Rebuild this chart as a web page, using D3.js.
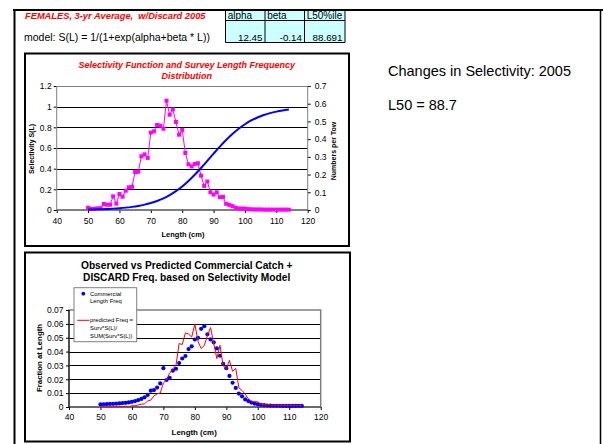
<!DOCTYPE html>
<html>
<head>
<meta charset="utf-8">
<script src="https://cdn.jsdelivr.net/npm/d3@7"></script>
<style>
  html, body { margin: 0; padding: 0; background: #fff; }
  svg { display: block; font-family: "Liberation Sans", Arial, Helvetica, sans-serif; }
</style>
</head>
<body>
<svg id="chart" width="603" height="444"></svg>
<script>
// ---- Data -------------------------------------------------------------
// Length classes (cm) for survey and commercial frequencies
const lengths = [50,51,52,53,54,55,56,57,58,59,60,61,62,63,64,65,66,67,68,69,
  70,71,72,73,74,75,76,77,78,79,80,81,82,83,84,85,86,87,88,89,
  90,91,92,93,94,95,96,97,98,99,100,101,102,103,104,105,106,107,108,109,
  110,111,112,113,114];

// Survey numbers per tow by length (right axis, top panel)
const surveyPerTow = [0.013,0.006,0.007,0.009,0.010,0.034,0.030,0.030,0.077,0.036,
  0.090,0.075,0.109,0.128,0.131,0.214,0.216,0.303,0.314,0.294,
  0.437,0.444,0.480,0.476,0.459,0.617,0.538,0.568,0.497,0.425,
  0.452,0.322,0.258,0.246,0.260,0.264,0.194,0.136,0.161,0.100,
  0.087,0.100,0.072,0.074,0.035,0.029,0.022,0.013,0.009,0.008,
  0.008,0.005,0.004,0.003,0.003,0.003,0.002,0.002,0.002,0.002,
  0.002,0.002,0.002,0.002,0.002];

// Fitted selectivity S(L) (left axis, top panel)
const selLengths = [50,52,54,56,58,60,62,64,66,68,70,72,74,76,78,80,82,84,86,88,
  90,92,94,96,98,100,102,104,106,108,110,112,114];
const selectivity = [0.0044,0.0058,0.0076,0.0101,0.0133,0.0175,0.0230,0.0303,0.0397,0.0519,
  0.0676,0.0876,0.1127,0.1441,0.1823,0.2279,0.2810,0.3410,0.4066,0.4757,
  0.5456,0.6139,0.6781,0.7360,0.7868,0.8301,0.8662,0.8955,0.9190,0.9376,
  0.9522,0.9634,0.9721];

// Observed commercial + discard length frequency (bottom panel, dots)
const commercialFreq = [0.0019,0.0020,0.0021,0.0022,0.0023,0.0024,0.0026,0.0028,0.0030,0.0033,
  0.0037,0.0043,0.0050,0.0058,0.0070,0.0087,0.0118,0.0122,0.0140,0.0170,
  0.0280,0.0195,0.0210,0.0262,0.0276,0.0317,0.0350,0.0368,0.0418,0.0438,
  0.0487,0.0499,0.0564,0.0583,0.0525,0.0488,0.0467,0.0423,0.0370,0.0312,
  0.0280,0.0224,0.0175,0.0138,0.0097,0.0077,0.0055,0.0043,0.0032,0.0025,
  0.0020,0.0016,0.0013,0.0011,0.0010,0.0009,0.0009,0.0009,0.0008,0.0008,
  0.0008,0.0008,0.0008,0.0008,0.0008];

// Predicted frequency = Surv*S(L)/SUM(Surv*S(L)) (bottom panel, line)
const predictedFreq = [0.0000,0.0000,0.0000,0.0000,0.0000,0.0002,0.0002,0.0002,0.0006,0.0003,
  0.0009,0.0009,0.0015,0.0020,0.0023,0.0043,0.0050,0.0080,0.0095,0.0101,
  0.0172,0.0199,0.0244,0.0276,0.0301,0.0458,0.0451,0.0535,0.0527,0.0505,
  0.0599,0.0474,0.0422,0.0444,0.0516,0.0573,0.0459,0.0349,0.0445,0.0297,
  0.0276,0.0337,0.0257,0.0278,0.0138,0.0119,0.0094,0.0058,0.0041,0.0038,
  0.0038,0.0020,0.0016,0.0015,0.0014,0.0013,0.0012,0.0012,0.0011,0.0011,
  0.0011,0.0010,0.0010,0.0010,0.0010];

// Model parameter table
const paramNames = ["alpha", "beta", "L50%ile"];
const paramValues = ["12.45", "-0.14", "88.691"];

// Axis ticks
const lengthTicks = [40,50,60,70,80,90,100,110,120];
const selTicks = [0,0.2,0.4,0.6,0.8,1,1.2];
const towTicks = [0,0.1,0.2,0.3,0.4,0.5,0.6,0.7];
const fracTicks = [0,0.01,0.02,0.03,0.04,0.05,0.06,0.07];

// ---- Drawing ----------------------------------------------------------
const svg = d3.select("#chart");
const fmt = d3.format("~g");

// Sheet outline
svg.append("line").attr("x1", 13).attr("x2", 603).attr("y1", 10).attr("y2", 10)
  .attr("stroke", "#000").attr("stroke-width", 2);
svg.append("line").attr("x1", 14.5).attr("x2", 14.5).attr("y1", 9).attr("y2", 444)
  .attr("stroke", "#000").attr("stroke-width", 2);
svg.append("line").attr("x1", 600.5).attr("x2", 600.5).attr("y1", 9).attr("y2", 444)
  .attr("stroke", "#000").attr("stroke-width", 1.5);

// Heading and model text
svg.append("text").attr("x", 25).attr("y", 19.3)
  .attr("font-size", 9.3).attr("font-weight", "bold").attr("font-style", "italic")
  .attr("fill", "#ff0000").attr("xml:space", "preserve")
  .text("FEMALES, 3-yr Average,  w/Discard 2005");
svg.append("text").attr("x", 24).attr("y", 40.7)
  .attr("font-size", 10.5).attr("fill", "#000")
  .text("model: S(L) = 1/(1+exp(alpha+beta * L))");

// Parameter table
const colX = [225.5, 265, 304.5, 345];
const rowY = [11, 20.5, 42.5];
const tbl = svg.append("g");
tbl.append("rect").attr("x", colX[0]).attr("y", rowY[0])
  .attr("width", colX[3] - colX[0]).attr("height", rowY[2] - rowY[0]).attr("fill", "#ccffff");
colX.forEach(x => tbl.append("line").attr("x1", x).attr("x2", x).attr("y1", rowY[0] - 1).attr("y2", rowY[2])
  .attr("stroke", "#000").attr("stroke-width", 1));
[rowY[1], rowY[2]].forEach(y => tbl.append("line").attr("x1", colX[0]).attr("x2", colX[3]).attr("y1", y).attr("y2", y)
  .attr("stroke", "#000").attr("stroke-width", 1));
paramNames.forEach((n, i) => tbl.append("text").attr("x", colX[i] + 2.2).attr("y", 18.6)
  .attr("font-size", 10).attr("fill", "#000").text(n));
paramValues.forEach((v, i) => tbl.append("text").attr("x", colX[i + 1] - 2.5).attr("y", 40.7)
  .attr("text-anchor", "end").attr("font-size", 9.8).attr("fill", "#000").text(v));

// Right-hand notes
svg.append("text").attr("x", 388).attr("y", 76).attr("font-size", 14.5).attr("fill", "#000")
  .text("Changes in Selectivity: 2005");
svg.append("text").attr("x", 388).attr("y", 110).attr("font-size", 14.5).attr("fill", "#000")
  .text("L50 = 88.7");

function styleAxis(g, fontSize) {
  g.selectAll(".domain").remove();
  g.selectAll(".tick line").attr("stroke", "#000").attr("stroke-width", 1);
  g.selectAll(".tick text").attr("font-size", fontSize).attr("fill", "#000")
    .attr("font-family", '"Liberation Sans", Arial, sans-serif');
}

// ================= Top panel: selectivity + survey ======================
const selPanel = svg.append("g");
selPanel.append("rect").attr("x", 25).attr("y", 53.5).attr("width", 324).attr("height", 192.5)
  .attr("fill", "#fff").attr("stroke", "#000").attr("stroke-width", 2);

const xT = d3.scaleLinear().domain([40, 120]).range([56.7, 307.7]);
const yL = d3.scaleLinear().domain([0, 1.2]).range([210, 86]);
const yR = d3.scaleLinear().domain([0, 0.7]).range([210, 86]);

// gridlines
selPanel.append("g").selectAll("line").data(selTicks.filter(d => d > 0)).join("line")
  .attr("x1", xT(40)).attr("x2", xT(120))
  .attr("y1", d => Math.round(yL(d)) + 0.5).attr("y2", d => Math.round(yL(d)) + 0.5)
  .attr("stroke", d => d === 1.2 ? "#808080" : "#000").attr("stroke-width", 1);

// axes
selPanel.append("g").attr("transform", `translate(${xT(40)},0)`)
  .call(d3.axisLeft(yL).tickValues(selTicks).tickFormat(fmt).tickSize(3).tickSizeOuter(0).tickPadding(2))
  .call(g => styleAxis(g, 8.5));
selPanel.append("g").attr("transform", `translate(${xT(120)},0)`)
  .call(d3.axisRight(yR).tickValues(towTicks).tickFormat(fmt).tickSize(3).tickSizeOuter(0).tickPadding(4))
  .call(g => styleAxis(g, 8.5));
selPanel.append("g").attr("transform", `translate(0,${yL(0)})`)
  .call(d3.axisBottom(xT).tickValues(lengthTicks).tickFormat(fmt).tickSize(3).tickSizeOuter(0).tickPadding(5))
  .call(g => styleAxis(g, 8.5));
selPanel.append("line").attr("x1", xT(40)).attr("x2", xT(40)).attr("y1", yL(1.2)).attr("y2", yL(0))
  .attr("stroke", "#808080");
selPanel.append("line").attr("x1", xT(120)).attr("x2", xT(120)).attr("y1", yL(1.2)).attr("y2", yL(0))
  .attr("stroke", "#808080");
selPanel.append("line").attr("x1", xT(40)).attr("x2", xT(120)).attr("y1", yL(0)).attr("y2", yL(0))
  .attr("stroke", "#555").attr("stroke-width", 1.5);

// survey series (magenta, squares)
const surveyPts = lengths.map((L, i) => [L, surveyPerTow[i]]);
selPanel.append("path").datum(surveyPts)
  .attr("fill", "none").attr("stroke", "#ff00ff").attr("stroke-width", 1)
  .attr("d", d3.line().x(d => xT(d[0])).y(d => yR(d[1])));
selPanel.append("g").selectAll("rect").data(surveyPts).join("rect")
  .attr("x", d => xT(d[0]) - 2).attr("y", d => yR(d[1]) - 2)
  .attr("width", 4).attr("height", 4).attr("fill", "#ff00ff");

// selectivity curve (blue)
const selPts = selLengths.map((L, i) => [L, selectivity[i]]);
selPanel.append("path").datum(selPts)
  .attr("fill", "none").attr("stroke", "#0000ff").attr("stroke-width", 2)
  .attr("d", d3.line().curve(d3.curveMonotoneX).x(d => xT(d[0])).y(d => yL(d[1])));

// titles
selPanel.append("text").attr("x", 186.7).attr("y", 68.3).attr("text-anchor", "middle")
  .attr("font-size", 9).attr("font-weight", "bold").attr("font-style", "italic").attr("fill", "#ff0000")
  .text("Selectivity Function and Survey Length Frequency");
selPanel.append("text").attr("x", 186.7).attr("y", 79).attr("text-anchor", "middle")
  .attr("font-size", 9).attr("font-weight", "bold").attr("font-style", "italic").attr("fill", "#ff0000")
  .text("Distribution");
selPanel.append("text").attr("x", 183).attr("y", 236.5).attr("text-anchor", "middle")
  .attr("font-size", 7.5).attr("font-weight", "bold").text("Length (cm)");
selPanel.append("text").attr("transform", "translate(34,149) rotate(-90)").attr("text-anchor", "middle")
  .attr("font-size", 7).attr("font-weight", "bold").text("Selectivity S(L)");
selPanel.append("text").attr("transform", "translate(335.5,151) rotate(-90)").attr("text-anchor", "middle")
  .attr("font-size", 7).attr("font-weight", "bold").text("Numbers per Tow");

// ================= Bottom panel: observed vs predicted ==================
const fitPanel = svg.append("g");
fitPanel.append("rect").attr("x", 25).attr("y", 252.5).attr("width", 325).attr("height", 189)
  .attr("fill", "#fff").attr("stroke", "#000").attr("stroke-width", 2);

const xB = d3.scaleLinear().domain([40, 120]).range([69, 320.7]);
const yB = d3.scaleLinear().domain([0, 0.07]).range([407, 310]);

fitPanel.append("g").selectAll("line").data(fracTicks.filter(d => d > 0 && d < 0.07)).join("line")
  .attr("x1", xB(40)).attr("x2", xB(120))
  .attr("y1", d => Math.round(yB(d)) + 0.5).attr("y2", d => Math.round(yB(d)) + 0.5)
  .attr("stroke", "#000").attr("stroke-width", 1);
fitPanel.append("rect").attr("x", xB(40)).attr("y", yB(0.07)).attr("width", xB(120) - xB(40))
  .attr("height", yB(0) - yB(0.07)).attr("fill", "none").attr("stroke", "#808080").attr("stroke-width", 1.5);

fitPanel.append("g").attr("transform", `translate(${xB(40)},0)`)
  .call(d3.axisLeft(yB).tickValues(fracTicks).tickFormat(fmt).tickSize(3).tickSizeOuter(0).tickPadding(2.5))
  .call(g => styleAxis(g, 8.5));
fitPanel.append("g").attr("transform", `translate(0,${yB(0)})`)
  .call(d3.axisBottom(xB).tickValues(lengthTicks).tickFormat(fmt).tickSize(3).tickSizeOuter(0).tickPadding(4.3))
  .call(g => styleAxis(g, 8.5));
fitPanel.append("line").attr("x1", xB(40)).attr("x2", xB(40)).attr("y1", yB(0.07)).attr("y2", yB(0))
  .attr("stroke", "#000");
fitPanel.append("line").attr("x1", xB(40)).attr("x2", xB(120)).attr("y1", yB(0)).attr("y2", yB(0))
  .attr("stroke", "#333").attr("stroke-width", 1.2);

// observed dots
fitPanel.append("g").selectAll("circle").data(lengths.map((L, i) => [L, commercialFreq[i]])).join("circle")
  .attr("cx", d => xB(d[0])).attr("cy", d => yB(d[1])).attr("r", 2.1).attr("fill", "#0000ff");

// predicted line
fitPanel.append("path").datum(lengths.map((L, i) => [L, predictedFreq[i]]))
  .attr("fill", "none").attr("stroke", "#ff0000").attr("stroke-width", 1)
  .attr("d", d3.line().x(d => xB(d[0])).y(d => yB(d[1])));

// titles
fitPanel.append("text").attr("x", 186.7).attr("y", 269).attr("text-anchor", "middle")
  .attr("font-size", 10.2).attr("font-weight", "bold").attr("fill", "#000")
  .text("Observed vs Predicted Commercial Catch +");
fitPanel.append("text").attr("x", 186.7).attr("y", 280.5).attr("text-anchor", "middle")
  .attr("font-size", 10.2).attr("font-weight", "bold").attr("fill", "#000")
  .text("DISCARD Freq. based on Selectivity Model");
fitPanel.append("text").attr("x", 194.2).attr("y", 434.5).attr("text-anchor", "middle")
  .attr("font-size", 7.9).attr("font-weight", "bold").text("Length (cm)");
fitPanel.append("text").attr("transform", "translate(41.8,358) rotate(-90)").attr("text-anchor", "middle")
  .attr("font-size", 7.8).attr("font-weight", "bold").text("Fraction at Length");

// legend
const lg = fitPanel.append("g");
lg.append("rect").attr("x", 74).attr("y", 287.7).attr("width", 62.7).attr("height", 54)
  .attr("fill", "#fff").attr("stroke", "#808080").attr("stroke-width", 1);
lg.append("circle").attr("cx", 83.3).attr("cy", 293.7).attr("r", 1.9).attr("fill", "#0000ff");
lg.append("line").attr("x1", 77.3).attr("x2", 89.3).attr("y1", 320.3).attr("y2", 320.3)
  .attr("stroke", "#ff0000").attr("stroke-width", 1);
const legendLines = [["Commercial", 295.8], ["Length Freq", 303], ["predicted Freq =", 322.4],
  ["Surv*S(L)/", 330.2], ["SUM(Surv*S(L))", 337.6]];
legendLines.forEach(([t, y]) => lg.append("text").attr("x", 90).attr("y", y)
  .attr("font-size", 5.9).attr("fill", "#000").text(t));
</script>
</body>
</html>
